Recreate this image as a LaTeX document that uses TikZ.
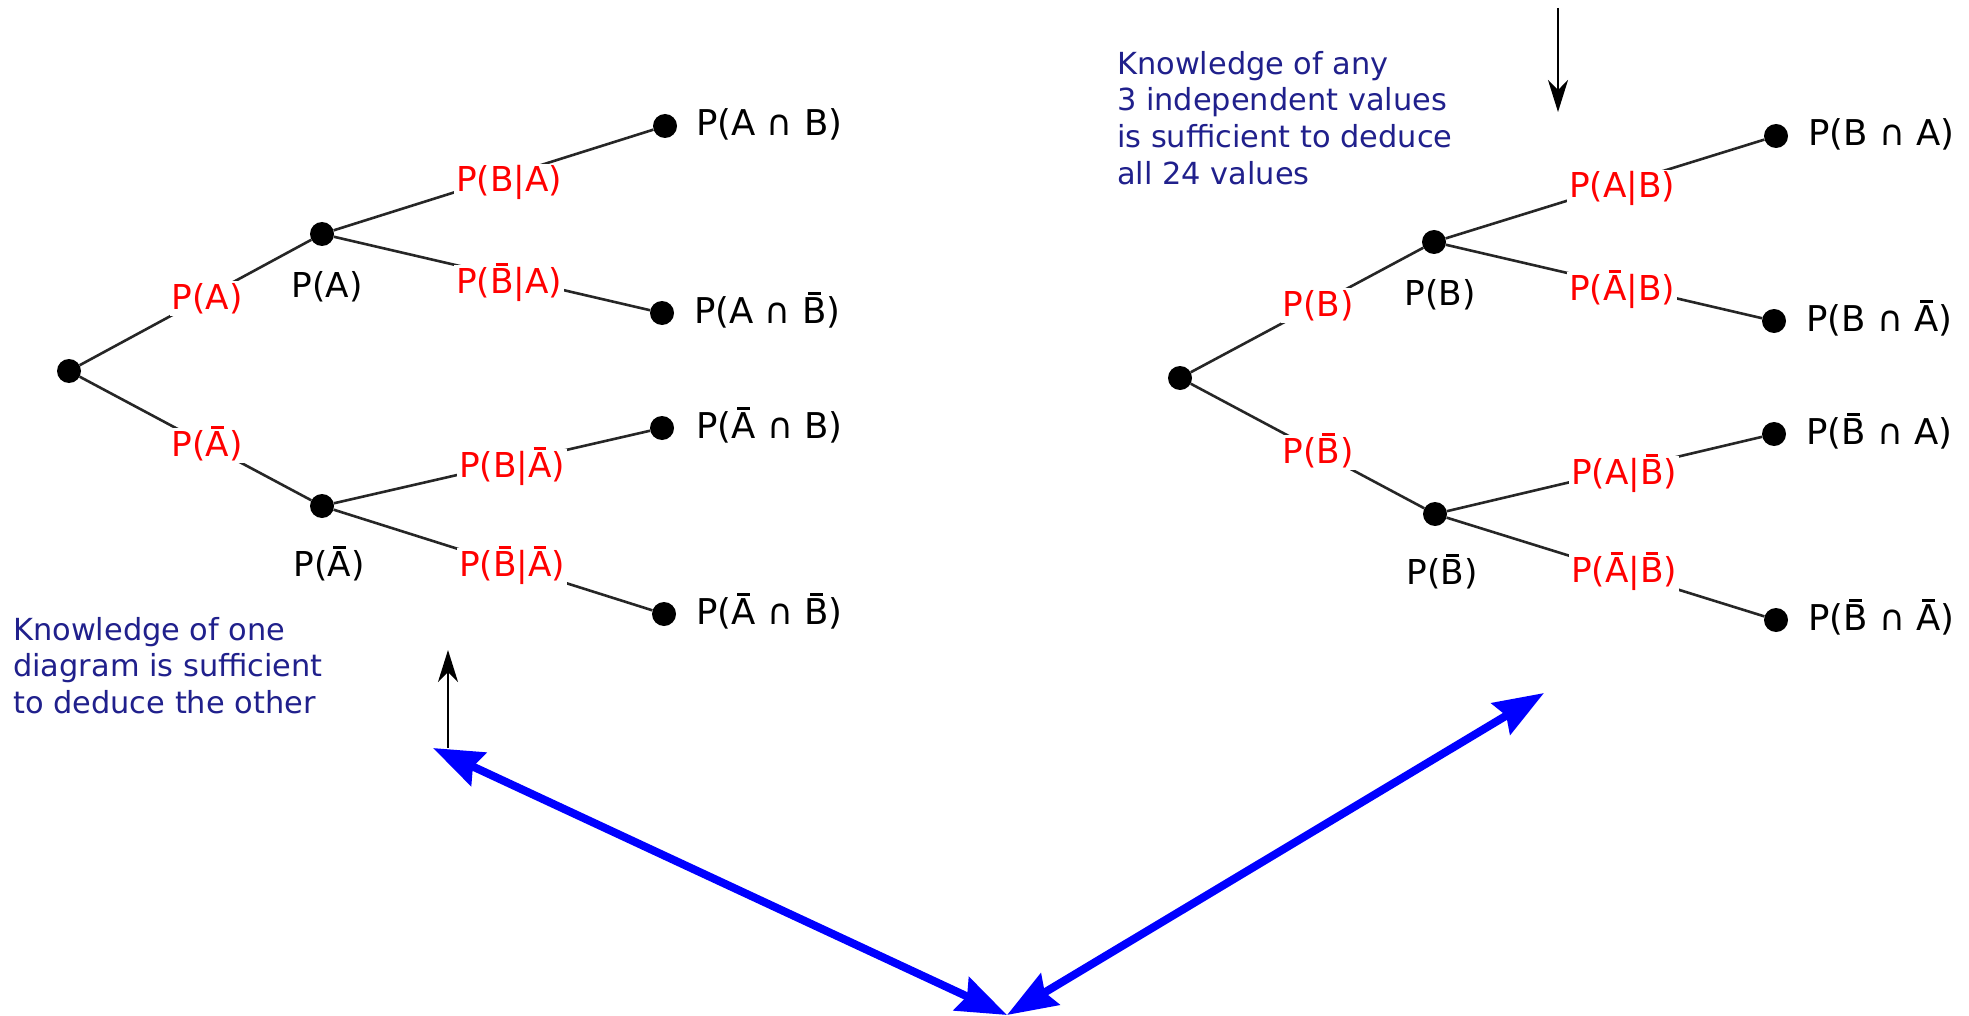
\documentclass[tikz,border=0pt]{standalone}
\usepackage{fontspec}
\setmainfont{DejaVu Sans}
\usetikzlibrary{arrows.meta}
\definecolor{navytext}{RGB}{32,32,140}
\newcommand\ovbar[1]{{\leavevmode\ooalign{#1\cr\hidewidth\rule[0.80em]{0.36em}{0.07em}\hidewidth\cr}}}
\newcommand\Abar{\ovbar{A}}
\newcommand\Bbar{\ovbar{B}}
\newcommand\labfont{\fontsize{34.3}{41}\selectfont}
\newcommand\leaffont{\fontsize{35.5}{42}\selectfont}
\newcommand\notefont{\fontsize{30.4}{36.6}\selectfont}
\tikzset{
  dot/.style={circle,fill=black,inner sep=0pt,minimum size=24pt},
  treeline/.style={line width=2.6pt,black!85},
  plab/.style={text=red,fill=white,inner sep=2pt,anchor=base,font=\labfont},
  blab/.style={anchor=base,font=\labfont,inner sep=0pt},
  leaflab/.style={anchor=base west,font=\leaffont,inner sep=0pt},
  note/.style={text=navytext,align=left,anchor=north west,inner sep=0pt,font=\notefont},
  thinarrow/.style={line width=2pt,-{Stealth[length=32pt,width=20pt,inset=10pt]}},
  bigarrow/.style={line width=8pt,blue,{Stealth[length=50pt,width=36pt,inset=6pt]}-{Stealth[length=50pt,width=36pt,inset=6pt]}},
}
\begin{document}
\begin{tikzpicture}[x=1pt,y=-1pt]
\useasboundingbox[fill=white] (0,0) rectangle (1969,1016);

% ---------- left tree ----------
\node[dot] (r1) at (69,371) {};
\node[dot] (u1) at (322,234) {};
\node[dot] (d1) at (322,506) {};
\node[dot] (l11) at (665,126) {};
\node[dot] (l12) at (662,313) {};
\node[dot] (l13) at (662,428) {};
\node[dot] (l14) at (664,614) {};
\draw[treeline] (r1) -- (u1);
\draw[treeline] (r1) -- (d1);
\draw[treeline] (u1) -- (l11);
\draw[treeline] (u1) -- (l12);
\draw[treeline] (d1) -- (l13);
\draw[treeline] (d1) -- (l14);
\node[plab] (pa1) at (207,309) {P(A)};
\node[plab] (pna1) at (207,456) {P(\Abar)};
\node[plab] (pba1) at (509,192) {P(B|A)};
\node[plab] (pnba1) at (509,293) {P(\Bbar|A)};
\node[plab] (pbna1) at (512,477) {P(B|\Abar)};
\node[plab] (pnbna1) at (512,576) {P(\Bbar|\Abar)};
\node[blab] (ka1) at (327,297) {P(A)};
\node[blab] (kna1) at (329,576) {P(\Abar)};
\node[leaflab] (t11) at (696,136) {P(A ∩ B)};
\node[leaflab] (t12) at (694,323) {P(A ∩ \Bbar)};
\node[leaflab] (t13) at (696,438) {P(\Abar{} ∩ B)};
\node[leaflab] (t14) at (696,624) {P(\Abar{} ∩ \Bbar)};

% ---------- right tree ----------
\node[dot] (r2) at (1180,378) {};
\node[dot] (u2) at (1434,242) {};
\node[dot] (d2) at (1435,514) {};
\node[dot] (l21) at (1776,136) {};
\node[dot] (l22) at (1774,321) {};
\node[dot] (l23) at (1774,434) {};
\node[dot] (l24) at (1776,620) {};
\draw[treeline] (r2) -- (u2);
\draw[treeline] (r2) -- (d2);
\draw[treeline] (u2) -- (l21);
\draw[treeline] (u2) -- (l22);
\draw[treeline] (d2) -- (l23);
\draw[treeline] (d2) -- (l24);
\node[plab] (pb2) at (1318,316) {P(B)};
\node[plab] (pnb2) at (1318,463) {P(\Bbar)};
\node[plab] (pab2) at (1622,198) {P(A|B)};
\node[plab] (pnab2) at (1622,300) {P(\Abar|B)};
\node[plab] (panb2) at (1624,484) {P(A|\Bbar)};
\node[plab] (pnanb2) at (1624,582) {P(\Abar|\Bbar)};
\node[blab] (kb2) at (1440,305) {P(B)};
\node[blab] (knb2) at (1442,584) {P(\Bbar)};
\node[leaflab] (t21) at (1808,146) {P(B ∩ A)};
\node[leaflab] (t22) at (1806,331) {P(B ∩ \Abar)};
\node[leaflab] (t23) at (1806,444) {P(\Bbar{} ∩ A)};
\node[leaflab] (t24) at (1808,630) {P(\Bbar{} ∩ \Abar)};

% ---------- notes ----------
\node[note] (n1) at (13,617) {Knowledge of one\\diagram is sufficient\\to deduce the other};
\node[note] (n2) at (1117,51) {Knowledge of any\\3 independent values\\is sufficient to deduce\\all 24 values};

% ---------- thin arrows ----------
\coordinate (a1s) at (448,748);
\coordinate (a1e) at (448,650);
\draw[thinarrow] (a1s) -- (a1e);
\coordinate (a2s) at (1558,8);
\coordinate (a2e) at (1558,112);
\draw[thinarrow] (a2s) -- (a2e);

% ---------- blue arrows ----------
\coordinate (bl) at (433,748);
\coordinate (bm) at (1007,1015);
\coordinate (br) at (1544,693);
\draw[bigarrow] (bl) -- (bm);
\draw[bigarrow] (br) -- (bm);
\end{tikzpicture}
\end{document}
